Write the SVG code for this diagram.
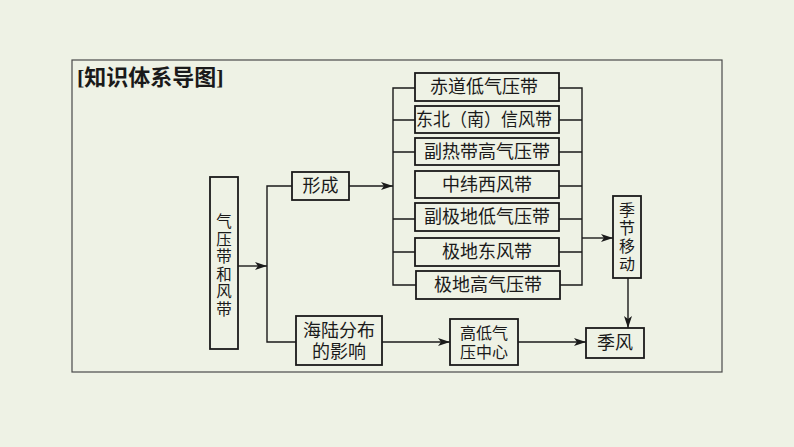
<svg xmlns="http://www.w3.org/2000/svg" width="794" height="447" viewBox="0 0 794 447">
<style>
.bx{fill:none;stroke:#1a1a1a;stroke-width:1.8}
.ln{fill:none;stroke:#1a1a1a;stroke-width:1.4}
.t{font-family:"Liberation Serif","Noto Sans CJK SC",serif;font-size:18px;fill:#1a1a1a;text-anchor:middle}
.s{font-family:"Liberation Serif","Noto Sans CJK SC",serif;font-size:16px;fill:#1a1a1a;text-anchor:middle}
.v{font-family:"Liberation Serif","Noto Sans CJK SC",serif;font-size:15.5px;fill:#1a1a1a;text-anchor:middle}
</style>
<defs>
<marker id="ah" viewBox="0 0 12 8" refX="12" refY="4" markerWidth="12" markerHeight="8" markerUnits="userSpaceOnUse" orient="auto">
<path d="M0,0 L12,4 L0,8 L3,4 Z" fill="#1a1a1a"/>
</marker>
</defs>
<rect x="0" y="0" width="794" height="447" fill="#eef2e5"/>
<rect x="72" y="60" width="650" height="312" fill="none" stroke="#4a4a4a" stroke-width="1.2"/>
<text x="77" y="85" font-family="Liberation Serif,'Noto Sans CJK SC',serif" font-size="22" font-weight="bold" fill="#1a1a1a">[知识体系导图]</text>

<g id="connectors">
<path class="ln" d="M238,266 H267" marker-end="url(#ah)"/>
<path class="ln" d="M292,186 H267 V342 H296"/>
<path class="ln" d="M349,186 H393" marker-end="url(#ah)"/>
<path class="ln" d="M415,88 H393 V285 H416"/>
<path class="ln" d="M393,120 H415 M393,152 H415 M393,219 H415 M393,252 H415"/>
<path class="ln" d="M559,88 H582 V285 H560"/>
<path class="ln" d="M559,120 H582 M559,152 H582 M559,186 H582 M559,219 H582 M559,252 H582"/>
<path class="ln" d="M582,238 H613" marker-end="url(#ah)"/>
<path class="ln" d="M628,278 V328" marker-end="url(#ah)"/>
<path class="ln" d="M382,342 H450" marker-end="url(#ah)"/>
<path class="ln" d="M518,342 H586" marker-end="url(#ah)"/>
</g>

<g id="n-main">
<rect class="bx" x="210" y="177" width="28" height="172"/>
<text class="v" x="224" y="227">气</text>
<text class="v" x="224" y="244.5">压</text>
<text class="v" x="224" y="262">带</text>
<text class="v" x="224" y="279.5">和</text>
<text class="v" x="224" y="297">风</text>
<text class="v" x="224" y="314.5">带</text>
</g>
<g id="n-form">
<rect class="bx" x="292" y="172" width="57" height="28"/>
<text class="t" x="320.5" y="192">形成</text>
</g>
<g id="n-land">
<rect class="bx" x="296" y="316" width="86" height="49"/>
<text class="t" x="339" y="337">海陆分布</text>
<text class="t" x="339" y="358">的影响</text>
</g>
<g id="n-b1">
<rect class="bx" x="415" y="73" width="144" height="28"/>
<text class="t" x="484" y="93">赤道低气压带</text>
</g>
<g id="n-b2">
<rect class="bx" x="415" y="106" width="144" height="27"/>
<text class="t" x="484" y="126" font-size="17" textLength="136" lengthAdjust="spacingAndGlyphs">东北（南）信风带</text>
</g>
<g id="n-b3">
<rect class="bx" x="415" y="138" width="144" height="27"/>
<text class="t" x="487" y="158">副热带高气压带</text>
</g>
<g id="n-b4">
<rect class="bx" x="415" y="171" width="144" height="27"/>
<text class="t" x="487" y="191">中纬西风带</text>
</g>
<g id="n-b5">
<rect class="bx" x="415" y="203" width="144" height="28"/>
<text class="t" x="487" y="223">副极地低气压带</text>
</g>
<g id="n-b6">
<rect class="bx" x="415" y="238" width="144" height="28"/>
<text class="t" x="487" y="258">极地东风带</text>
</g>
<g id="n-b7">
<rect class="bx" x="416" y="271" width="144" height="28"/>
<text class="t" x="488" y="291">极地高气压带</text>
</g>
<g id="n-season">
<rect class="bx" x="613" y="196" width="28" height="82"/>
<text class="s" x="627" y="216">季</text>
<text class="s" x="627" y="234">节</text>
<text class="s" x="627" y="252">移</text>
<text class="s" x="627" y="270">动</text>
</g>
<g id="n-center">
<rect class="bx" x="450" y="319" width="68" height="46"/>
<text class="s" x="484" y="339">高低气</text>
<text class="s" x="484" y="358">压中心</text>
</g>
<g id="n-monsoon">
<rect class="bx" x="586" y="328" width="58" height="30"/>
<text class="t" x="615" y="349">季风</text>
</g>
</svg>
